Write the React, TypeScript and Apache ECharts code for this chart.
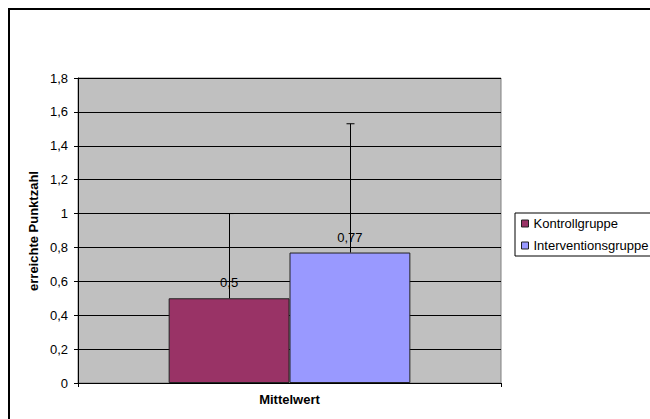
import React, { useEffect, useRef } from "react";
import * as echarts from "echarts";

const categories = ["Mittelwert"];
const seriesNames = ["Kontrollgruppe", "Interventionsgruppe"];
const seriesColors = ["#993366", "#9999FF"];
const meanValues = [0.5, 0.77];
const errorPlus = [0.5, 0.76];
const yTicks = { min: 0, max: 1.8, interval: 0.2 };

const FONT = "Arial, 'Liberation Sans', sans-serif";
const GAP = 1.5 / 3.5;

export default function App() {
  const ref = useRef<HTMLDivElement>(null);
  useEffect(() => {
    if (!ref.current) return;
    const chart = echarts.init(ref.current, null, { renderer: "svg" });
    const fmt = (v: number) => String(Math.round(v * 100) / 100).replace(".", ",");
    const barSeries = seriesNames.map((name, i) => ({
      name,
      type: "bar",
      data: [meanValues[i]],
      barGap: "0%",
      barCategoryGap: (GAP * 100).toFixed(2) + "%",
      itemStyle: { color: seriesColors[i], borderColor: "#222", borderWidth: 1 },
      label: {
        show: true,
        position: "top",
        distance: 9,
        color: "#000",
        fontSize: 13,
        fontFamily: FONT,
        formatter: (p: any) => fmt(p.value),
      },
      z: 2,
    }));
    const errData = seriesNames.map((_, i) => [0, meanValues[i], errorPlus[i], i]);
    chart.setOption({
      animation: false,
      backgroundColor: "#fff",
      textStyle: { fontFamily: FONT },
      grid: {
        left: 78,
        top: 78,
        width: 423,
        height: 305,
        show: true,
        backgroundColor: "#C0C0C0",
        borderColor: "#808080",
        borderWidth: 1,
        outerBoundsMode: "none",
        containLabel: false,
      },
      legend: {
        data: seriesNames,
        orient: "vertical",
        left: 515,
        top: 213,
        padding: [4, 20, 4, 6],
        itemGap: 9,
        itemWidth: 7,
        itemHeight: 7,
        icon: "rect",
        borderColor: "#000",
        borderWidth: 1,
        backgroundColor: "#fff",
        textStyle: { fontSize: 13, color: "#000", fontFamily: FONT },
        itemStyle: { borderColor: "#222", borderWidth: 1 },
      },
      xAxis: {
        type: "category",
        data: categories,
        axisLine: { show: true, lineStyle: { color: "#000", width: 1 } },
        axisTick: { show: true, length: 4, lineStyle: { color: "#000" } },
        axisLabel: { margin: 10, fontSize: 13, fontWeight: "bold", color: "#000", fontFamily: FONT },
        splitLine: { show: false },
      },
      yAxis: {
        type: "value",
        min: yTicks.min,
        max: yTicks.max,
        interval: yTicks.interval,
        axisLine: { show: true, lineStyle: { color: "#000", width: 1 } },
        axisTick: { show: true, length: 4, lineStyle: { color: "#000" } },
        axisLabel: {
          margin: 10,
          fontSize: 13,
          color: "#000",
          fontFamily: FONT,
          formatter: (v: number) => fmt(v),
        },
        splitLine: { show: true, lineStyle: { color: "#000", width: 1 } },
      },
      graphic: [
        {
          type: "rect",
          shape: { x: 9, y: 9, width: 700, height: 500 },
          style: { fill: "none", stroke: "#000", lineWidth: 2 },
          silent: true,
          z: 100,
        },
        {
          type: "text",
          x: 33,
          y: 231,
          rotation: Math.PI / 2,
          style: {
            text: "erreichte Punktzahl",
            fontSize: 13,
            fontWeight: "bold",
            fontFamily: FONT,
            fill: "#000",
            align: "center",
            verticalAlign: "middle",
          },
        },
      ],
      series: [
        ...barSeries,
        {
          type: "custom",
          name: "err",
          data: errData,
          z: 5,
          renderItem: (params: any, api: any) => {
            const idx = api.value(3);
            const band = api.size([1, 0])[0];
            const barW = (band * (1 - GAP)) / 2;
            const base = api.coord([api.value(0), api.value(1)]);
            const top = api.coord([api.value(0), api.value(1) + api.value(2)]);
            const x = Math.round(base[0] + (idx - 0.5) * barW) + 0.5;
            const style = { stroke: "#000", lineWidth: 1 };
            return {
              type: "group",
              children: [
                { type: "line", shape: { x1: x, y1: base[1], x2: x, y2: top[1] }, style },
                { type: "line", shape: { x1: x - 4, y1: top[1], x2: x + 4, y2: top[1] }, style },
              ],
            };
          },
        },
      ],
    });
    return () => chart.dispose();
  }, []);
  return (
    <div
      ref={ref}
      style={{ position: "fixed", left: 0, top: 0, width: 650, height: 419 }}
    />
  );
}
